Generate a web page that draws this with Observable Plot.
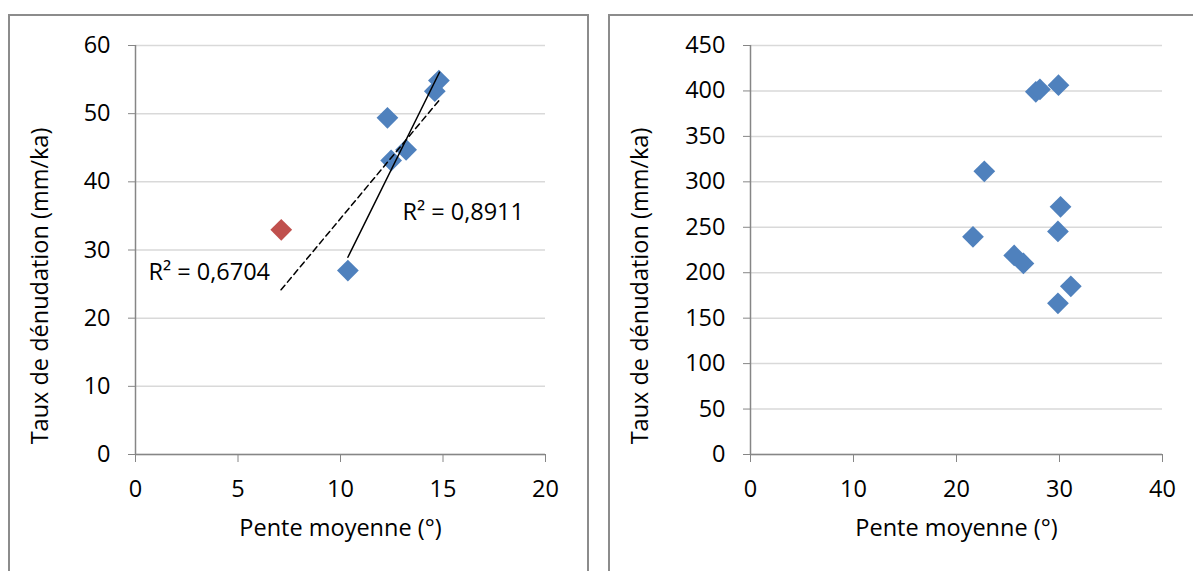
<!DOCTYPE html>
<html><head><meta charset="utf-8">
<script src="https://cdn.jsdelivr.net/npm/d3@7"></script>
<script src="https://cdn.jsdelivr.net/npm/@observablehq/plot@0.6"></script>
<style>
html,body{margin:0;padding:0;background:#fff;}
#wrap{position:relative;width:1193px;height:571px;overflow:hidden;background:#fff;font-family:"Open Sans",sans-serif;}
.panel{position:absolute;border:2px solid #8c8c8c;box-sizing:border-box;}
.chart{position:absolute;top:0;}
</style></head><body>
<div id="wrap">
<div class="panel" style="left:8px;top:14px;width:581px;height:700px"></div>
<div class="panel" style="left:608px;top:14px;width:700px;height:700px"></div>
<div class="chart" id="left" style="left:0px"></div>
<div class="chart" id="right" style="left:595px"></div>
</div>
<script>
// ---- text ----
const xTitle = "Pente moyenne (°)";
const yTitle = "Taux de dénudation (mm/ka)";

// ---- left panel ----
const leftXTicks = [0, 5, 10, 15, 20];
const leftYTicks = [0, 10, 20, 30, 40, 50, 60];
const leftBlueSlope = [10.36, 12.29, 12.47, 13.2, 14.6, 14.8];
const leftBlueRate  = [26.99, 49.39, 43.13, 44.7, 53.3, 54.86];
const leftRedSlope = [7.11];
const leftRedRate  = [32.96];
const trendBlueSlope = [10.36, 14.83];
const trendBlueRate  = [28.94, 56.08];
const trendAllSlope = [7.10, 14.83];
const trendAllRate  = [24.16, 52.03];
const r2Labels = ["R² = 0,8911", "R² = 0,6704"];
const r2Slope = [13.02, 0.63];
const r2Rate  = [35.5, 26.7];

// ---- right panel ----
const rightXTicks = [0, 10, 20, 30, 40];
const rightYTicks = [0, 50, 100, 150, 200, 250, 300, 350, 400, 450];
const rightSlope = [21.6, 22.7, 25.6, 26.5, 27.7, 28.1, 29.9, 30.1, 29.85, 31.1, 29.85];
const rightRate  = [239.5, 311.6, 219, 210.2, 399, 401.7, 406.4, 272.5, 245.4, 185, 166.3];

const axisColor = "#868686";
const gridColor = "#d9d9d9";
const blue = "#4f81bd";
const red = "#c0504d";
const FS = 23.5;
const FONT = "Open Sans";

function base(xTicks, yTicks, titleDx) {
  return [
    Plot.gridY(yTicks, {stroke: gridColor, strokeOpacity: 1, strokeWidth: 1.5}),
    Plot.ruleX([xTicks[0]], {stroke: axisColor, strokeWidth: 1.5}),
    Plot.ruleY([yTicks[0]], {stroke: axisColor, strokeWidth: 1.5}),
    Plot.axisX(xTicks, {tickSize: 8, tickPadding: 18, stroke: axisColor, fill: "black", label: null, fontSize: FS}),
    Plot.axisY(yTicks, {tickSize: 7, tickPadding: 18, stroke: axisColor, fill: "black", label: null, fontSize: FS}),
    Plot.text([xTitle], {frameAnchor: "bottom", dy: 81, text: d => d, fontSize: FS, fill: "black"}),
    Plot.text([yTitle], {frameAnchor: "left", textAnchor: "middle", rotate: -90, dx: titleDx, dy: 36, text: d => d, fontSize: FS, fill: "black"})
  ];
}

const left = Plot.plot({
  width: 595, height: 571,
  marginLeft: 135, marginRight: 50, marginTop: 45, marginBottom: 117,
  style: {fontFamily: FONT, fontSize: FS + "px", background: "transparent", color: "black"},
  x: {domain: [0, 20]},
  y: {domain: [0, 60]},
  marks: [
    ...base(leftXTicks, leftYTicks, -95),
    Plot.dot(leftBlueSlope, {x: d => d, y: (d, i) => leftBlueRate[i], symbol: "diamond2", r: 9.8, fill: blue, stroke: null}),
    Plot.dot(leftRedSlope, {x: d => d, y: (d, i) => leftRedRate[i], symbol: "diamond2", r: 9.8, fill: red, stroke: null}),
    Plot.line(trendBlueSlope, {x: d => d, y: (d, i) => trendBlueRate[i], stroke: "black", strokeWidth: 1.5}),
    Plot.line(trendAllSlope, {x: d => d, y: (d, i) => trendAllRate[i], stroke: "black", strokeWidth: 1.5, strokeDasharray: "6,4"}),
    Plot.text(r2Labels, {x: (d, i) => r2Slope[i], y: (d, i) => r2Rate[i], text: d => d, textAnchor: "start", fontSize: FS, fill: "black"})
  ]
});
document.getElementById("left").appendChild(left);

const right = Plot.plot({
  width: 598, height: 571,
  marginLeft: 155, marginRight: 31, marginTop: 45, marginBottom: 117,
  style: {fontFamily: FONT, fontSize: FS + "px", background: "transparent", color: "black"},
  x: {domain: [0, 40]},
  y: {domain: [0, 450]},
  marks: [
    ...base(rightXTicks, rightYTicks, -110),
    Plot.dot(rightSlope, {x: d => d, y: (d, i) => rightRate[i], symbol: "diamond2", r: 9.8, fill: blue, stroke: null})
  ]
});
document.getElementById("right").appendChild(right);
</script>
</body></html>
